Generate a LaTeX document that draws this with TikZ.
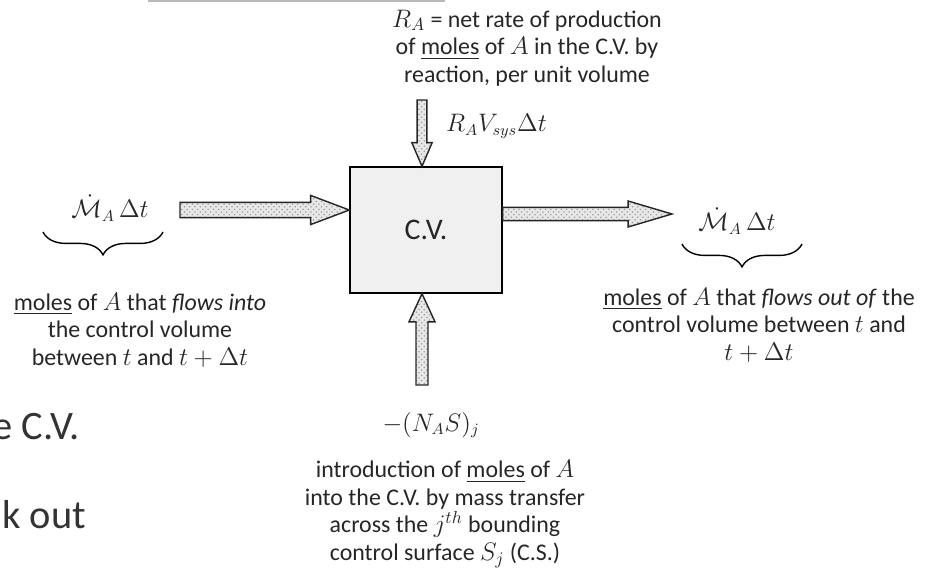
\documentclass[tikz,border=0pt]{standalone}
\usepackage{amsmath, amssymb}
\usepackage{fontspec}
\setmainfont{Carlito}
\usepackage{tikz}
\usetikzlibrary{patterns, decorations.pathreplacing, calc}

% fat hatched arrow: from, to, half shaft, half head, head length
\newcommand{\fatarrow}[5]{%
  \coordinate (fa-base) at ($(#2)!#5!(#1)$);
  \filldraw[fatfill] ($(#1)!#3!90:(#2)$) -- ($(fa-base)!#3!-90:(#1)$)
    -- ($(fa-base)!#4!-90:(#1)$) -- (#2) -- ($(fa-base)!#4!90:(#1)$)
    -- ($(fa-base)!#3!90:(#1)$) -- ($(#1)!#3!-90:(#2)$) -- cycle;
}

\tikzset{
  note/.style={align=center, text=black!85, font=\fontsize{13.6}{15.7}\selectfont},
  flowlbl/.style={text=black!85, font=\fontsize{13.5}{16}\selectfont},
  slidetext/.style={anchor=base west, text=black!80, font=\fontsize{23}{28}\selectfont},
  fatfill/.style={draw=black!85, line width=0.8pt, line join=miter,
    preaction={fill=gray!18}, pattern=crosshatch dots, pattern color=gray!75},
  cvbox/.style={draw, line width=0.8pt, fill=gray!12, minimum width=3.04cm,
    minimum height=2.52cm, text=black!85, font=\fontsize{17}{20}\selectfont},
  underbrace/.style={decorate, decoration={brace, mirror, amplitude=13pt}, line width=0.8pt}
}

\begin{document}
\begin{tikzpicture}[x=0.02cm, y=-0.02cm]
    \useasboundingbox (0,0) rectangle (931,581);

    % leftovers of the slide behind the figure
    \draw[gray!55, line width=0.8pt] (148,1) -- (445,1);
    \node[slidetext] (slideA) at (-14,439) {e C.V.};
    \node[slidetext] (slideB) at (-4,528) {k out};

    % control volume
    \node[cvbox] (cv) at (426,230) {C.V.};

    % reaction term (top)
    \node[note] (topnote) at (527,48) {
        $R_A$ = net rate of production\\
        of \underline{moles} of $A$ in the C.V. by\\
        reaction, per unit volume
    };
    \node[flowlbl, anchor=west] (ratelbl) at (440,126) {$R_A V_{sys} \Delta t$};
    \coordinate (toptail) at (422,100);
    \coordinate (tophead) at (cv.north -| toptail);
    \fatarrow{toptail}{tophead}{2.8pt}{5.8pt}{13.5pt}

    % inflow (left)
    \node[flowlbl] (inlbl) at (110,208) {$\dot{\mathcal{M}}_A\,\Delta t$};
    \coordinate (inbl) at (43,232);
    \coordinate (inbr) at (163,232);
    \draw[underbrace] (inbl) -- (inbr);
    \node[note] (innote) at (140,330) {
        \underline{moles} of $A$ that \textit{flows into}\\
        the control volume\\
        between $t$ and $t+\Delta t$
    };
    \coordinate (intail) at (180,210);
    \coordinate (inhead) at (cv.west |- intail);
    \fatarrow{intail}{inhead}{4.3pt}{8.3pt}{22pt}

    % outflow (right)
    \coordinate (outtail) at (cv.east |- 0,214);
    \coordinate (outhead) at (672,214);
    \fatarrow{outtail}{outhead}{3.8pt}{7.4pt}{25pt}
    \node[flowlbl] (outlbl) at (737,221) {$\dot{\mathcal{M}}_A\,\Delta t$};
    \coordinate (outbl) at (682,244);
    \coordinate (outbr) at (802,244);
    \draw[underbrace] (outbl) -- (outbr);
    \node[note] (outnote) at (759,325) {
        \underline{moles} of $A$ that \textit{flows out of} the\\
        control volume between $t$ and\\
        $t+\Delta t$
    };

    % mass transfer (bottom)
    \coordinate (bottail) at (422,385);
    \coordinate (bothead) at (cv.south -| bottail);
    \fatarrow{bottail}{bothead}{3.4pt}{7.4pt}{16pt}
    \node[flowlbl] (fluxlbl) at (431,425) {$-(N_A S)_j$};
    \node[note] (fluxnote) at (445,514) {
        introduction of \underline{moles} of $A$\\
        into the C.V. by mass transfer\\
        across the $j^{th}$ bounding\\
        control surface $S_j$ (C.S.)
    };
\end{tikzpicture}
\end{document}
